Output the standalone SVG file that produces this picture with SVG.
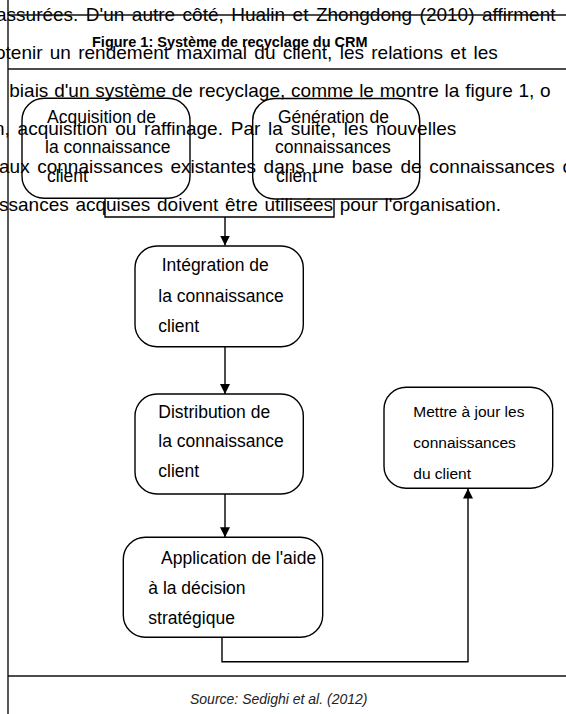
<svg xmlns="http://www.w3.org/2000/svg" width="566" height="714" viewBox="0 0 566 714">
<style>
text{font-family:"Liberation Sans",Arial,Helvetica,sans-serif;fill:#000}
.body{font-size:19px}
.title{font-size:14.5px;font-weight:bold}
.lbl{font-size:17.5px}
.lbls{font-size:15.5px}
.src{font-size:14px;font-style:italic;fill:#222}
.frame{stroke:#111;stroke-width:1.4;fill:none}
.box{fill:none;stroke:#000;stroke-width:1.4}
.conn{fill:none;stroke:#000;stroke-width:1.4}
</style>
<defs>
<marker id="arr" viewBox="0 0 10 10" refX="10" refY="5" markerWidth="10" markerHeight="10" markerUnits="userSpaceOnUse" orient="auto">
<path d="M0,0 L10,5 L0,10 Z" fill="#000"/>
</marker>
</defs>
<rect x="0" y="0" width="566" height="714" fill="#fff"/>
<g id="background-text">
<text class="body" x="-4" y="21" word-spacing="2.2">assurées. D'un autre côté, Hualin et Zhongdong (2010) affirment</text>
<text class="body" x="-5" y="59" word-spacing="2">otenir un rendement maximal du client, les relations et les</text>
<text class="body" x="9.3" y="97" word-spacing="0.5">biais d'un système de recyclage, comme le montre la figure 1, o</text>
<text class="body" x="-6" y="135" word-spacing="2.5">n, acquisition ou raffinage. Par la suite, les nouvelles</text>
<text class="body" x="-1" y="173" word-spacing="2.3">aux connaissances existantes dans une base de connaissances c</text>
<text class="body" x="-1" y="211" word-spacing="1.4">ssances acquises doivent être utilisées pour l'organisation.</text>
</g>
<g id="frame">
<line class="frame" x1="8" y1="0" x2="8" y2="714"/>
<line class="frame" x1="8" y1="15" x2="566" y2="15"/>
<line class="frame" x1="8" y1="69" x2="566" y2="69"/>
<line class="frame" x1="8" y1="676" x2="566" y2="676"/>
</g>
<text id="title" class="title" x="92" y="46.5">Figure 1: Système de recyclage du CRM</text>
<g id="connectors">
<polyline class="conn" points="105,198.3 105,217 334,217 334,199"/>
<line class="conn" x1="225" y1="217" x2="225" y2="245.5" marker-end="url(#arr)"/>
<line class="conn" x1="225" y1="346.7" x2="225" y2="394" marker-end="url(#arr)"/>
<line class="conn" x1="225" y1="494" x2="225" y2="537.3" marker-end="url(#arr)"/>
<polyline class="conn" points="222,637.3 222,661.7 468,661.7 468,488.5" marker-end="url(#arr)"/>
</g>
<g id="node-acquisition">
<rect class="box" x="22" y="98.3" width="168" height="100" rx="22"/>
<text class="lbl" x="47" y="122.7">Acquisition de</text>
<text class="lbl" x="45" y="152.7">la connaissance</text>
<text class="lbl" x="47" y="181.7">client</text>
</g>
<g id="node-generation">
<rect class="box" x="252.7" y="98.5" width="167" height="100.5" rx="22"/>
<text class="lbl" x="278" y="123.3">Génération de</text>
<text class="lbl" x="275" y="153.3">connaissances</text>
<text class="lbl" x="276" y="181.7">client</text>
</g>
<g id="node-integration">
<rect class="box" x="135" y="246" width="168.3" height="100.7" rx="22"/>
<text class="lbl" x="161.7" y="271">Intégration de</text>
<text class="lbl" x="158.3" y="301.7">la connaissance</text>
<text class="lbl" x="158.3" y="331.7">client</text>
</g>
<g id="node-distribution">
<rect class="box" x="135" y="394" width="168.3" height="100" rx="22"/>
<text class="lbl" x="158.3" y="417.7">Distribution de</text>
<text class="lbl" x="158.3" y="447">la connaissance</text>
<text class="lbl" x="158.3" y="476.7">client</text>
</g>
<g id="node-application">
<rect class="box" x="123.3" y="537.3" width="199.4" height="100" rx="22"/>
<text class="lbl" x="161" y="563.5">Application de l'aide</text>
<text class="lbl" x="148.3" y="594">à la décision</text>
<text class="lbl" x="148.3" y="624">stratégique</text>
</g>
<g id="node-mise-a-jour">
<rect class="box" x="384" y="387.3" width="168.7" height="101" rx="22"/>
<text class="lbls" x="413.3" y="417.3">Mettre à jour les</text>
<text class="lbls" x="413.3" y="448.3">connaissances</text>
<text class="lbls" x="413.3" y="479">du client</text>
</g>
<text id="source" class="src" x="190" y="704">Source: Sedighi et al. (2012)</text>
</svg>
